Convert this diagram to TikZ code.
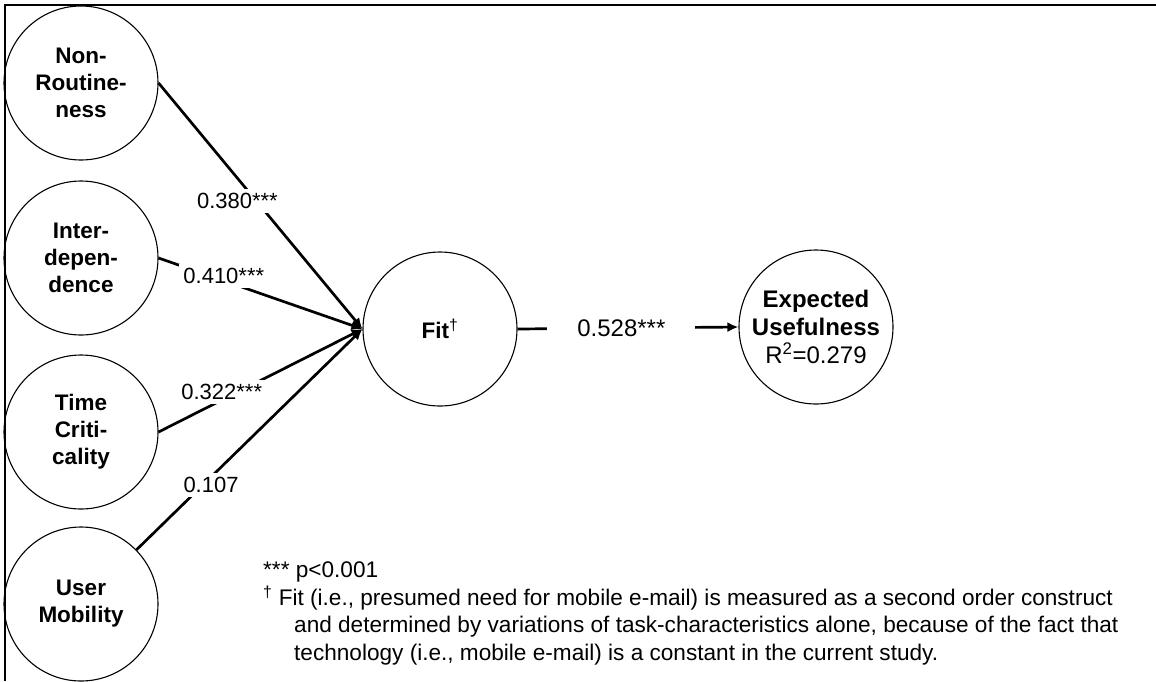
\documentclass[tikz,border=0pt]{standalone}
\usepackage{fontspec}
\setmainfont{Liberation Sans}
\usepackage{tikz}
\usetikzlibrary{arrows.meta}

\begin{document}
\begin{tikzpicture}[
  x=1pt,y=-1pt,
  every node/.style={font=\fontsize{22}{27}\selectfont},
  construct/.style={draw,circle,line width=1.1pt,minimum size=154pt,
    inner sep=0pt,align=center,font=\fontsize{22.5}{27}\selectfont\bfseries},
  coef/.style={fill=white,inner sep=4pt},
  arr/.style={-{Latex[length=11pt,width=10pt]},line width=2.7pt}
]
  \useasboundingbox (0,0) rectangle (1156,681);
  \draw[line width=2.5pt] (5,681) -- (5,5) -- (1156,5);

  \node[construct] (nonroutine) at (81,83) {Non-\\Routine-\\ness};
  \node[construct] (interdep) at (81,258) {Inter-\\depen-\\dence};
  \node[construct] (timecrit) at (81,432) {Time\\Criti-\\cality};
  \node[construct] (mobility) at (81,604) {User\\Mobility};
  \node[construct] (fit) at (440,329) {Fit\textsuperscript{\mdseries †}};
  \node[construct,font=\fontsize{24}{28}\selectfont\bfseries] (useful) at (816,327)
    {Expected\\Usefulness\\\mdseries R\textsuperscript{2}=0.279};

  \draw[arr] (nonroutine.east) -- node[coef,pos=0.48,xshift=-19pt] {0.380***} (fit.west);
  \draw[arr] (interdep.east) -- node[coef,pos=0.32,yshift=5pt] {0.410***} (fit.west);
  \draw[arr] (timecrit.east) -- node[coef,pos=0.31,yshift=8pt] {0.322***} (fit.west);
  \draw[arr] (mobility) -- node[coef,pos=0.33,yshift=-8pt] {0.107} (fit.west);
  \draw[arr] (fit.east) -- node[coef,pos=0.47,inner xsep=30pt,
    font=\fontsize{24}{28}\selectfont] {0.528***} (useful.west);

  \node[anchor=north west,align=left,inner sep=0pt,
    font=\fontsize{22.6}{27.4}\selectfont] (notes) at (263,562)
    {*** p<0.001\\
     \textsuperscript{†} Fit (i.e., presumed need for mobile e-mail) is measured as a second order construct\\
     \hspace*{31pt}and determined by variations of task-characteristics alone, because of the fact that\\
     \hspace*{31pt}technology (i.e., mobile e-mail) is a constant in the current study.};
\end{tikzpicture}
\end{document}
